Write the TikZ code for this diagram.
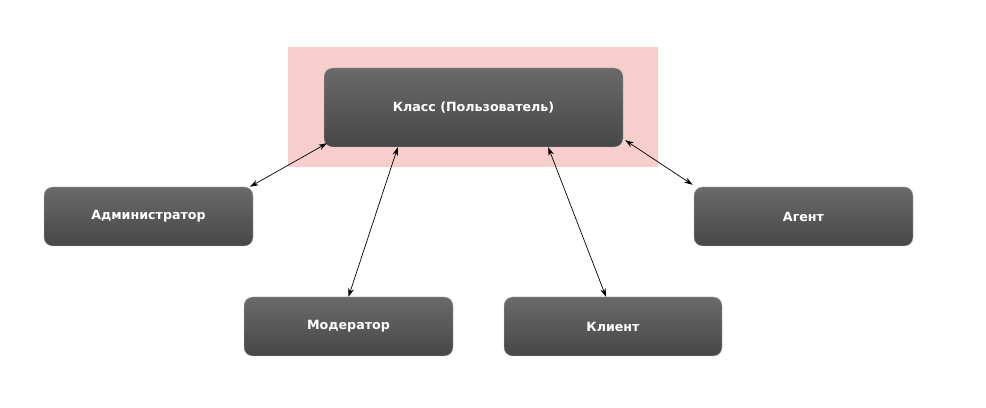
\documentclass[tikz,border=0pt]{standalone}
\usepackage{fontspec}
\setmainfont{DejaVu Sans}
\usetikzlibrary{arrows.meta}

\definecolor{pinkbg}{HTML}{F8CECC}
\definecolor{boxtop}{HTML}{6A6A6A}
\definecolor{boxbottom}{HTML}{474747}

\begin{document}
\begin{tikzpicture}[
    role/.style={rectangle, rounded corners=6pt, draw=gray!55, line width=0.3pt, top color=boxtop, bottom color=boxbottom, text=white, font=\fontsize{9}{11}\selectfont\bfseries, minimum height=1.475cm, inner sep=0pt, align=center},
    arrow/.style={{Stealth[length=6pt,width=4pt]}-{Stealth[length=6pt,width=4pt]}, line width=0.5pt}
]

\useasboundingbox (0,0) rectangle (24.65,10.2);

% Highlight behind the user class
\fill[pinkbg] (7.2,6.025) rectangle (16.45,9.025);

% User class
\node[role, minimum width=7.475cm, minimum height=1.975cm] at (11.8375,7.5125) (user) {Класс (Пользователь)};

% Roles
\node[role, minimum width=5.225cm] at (3.7125,4.7875) (admin) {Администратор};
\node[role, minimum width=5.475cm] at (20.0875,4.7875) (agent) {Агент};
\node[role, minimum width=5.225cm] at (8.7125,2.0375) (moder) {Модератор};
\node[role, minimum width=5.45cm] at (15.325,2.0375) (client) {Клиент};

% Arrows
\draw[arrow] ([shift={(0.08,0.1)}]user.south west) -- ([shift={(-0.08,0)}]admin.north east);
\draw[arrow] ([shift={(1.85,0)}]user.south west) -- (moder.north);
\draw[arrow] ([shift={(-1.875,0)}]user.south east) -- ([shift={(-0.175,0)}]client.north);
\draw[arrow] ([shift={(0.05,0.175)}]user.south east) -- ([shift={(-0.03,0.05)}]agent.north west);

\end{tikzpicture}
\end{document}
